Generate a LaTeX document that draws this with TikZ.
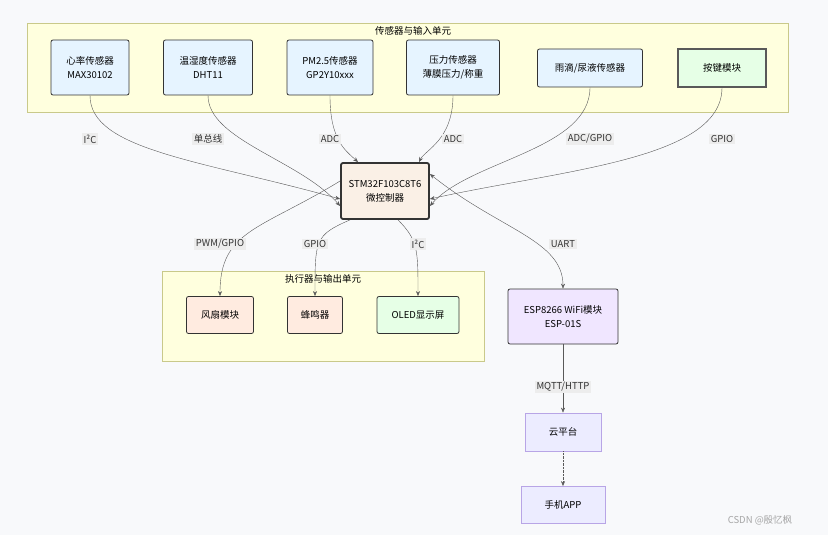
\documentclass[tikz,border=0pt]{standalone}
\usepackage{fontspec}
\setmainfont{Noto Sans CJK SC}
\usetikzlibrary{arrows.meta}
\definecolor{bgc}{HTML}{F8F9FB}
\definecolor{grpc}{HTML}{FFFFDE}
\definecolor{grpd}{HTML}{C9C98A}
\definecolor{sensc}{HTML}{E6F4FF}
\definecolor{keyc}{HTML}{E6FFE6}
\definecolor{mcuc}{HTML}{FAF0E6}
\definecolor{actc}{HTML}{FFEBE0}
\definecolor{espc}{HTML}{F0E6FF}
\definecolor{cldc}{HTML}{ECECFF}
\definecolor{cldd}{HTML}{B8A5E6}
\begin{document}
\begin{tikzpicture}[x=1pt,y=-1pt,font=\fontsize{9.5}{14}\selectfont,
  box/.style={draw=black!80,line width=0.8pt,rounded corners=2pt,align=center,inner sep=0pt},
  group/.style={draw=grpd,fill=grpc},
  lab/.style={fill=black!7,inner sep=1.5pt,text=black!80},
  arr/.style={draw=black!65,-{Stealth[length=5pt,width=4pt]}}]

\useasboundingbox[fill=bgc] (0,0) rectangle (828,535);

% groups
\draw[group] (27,23) rectangle (788,112);
\node (tin) at (413,31) {传感器与输入单元};
\draw[group] (162,271) rectangle (484,361);
\node (tout) at (323,279) {执行器与输出单元};

% sensors
\node[box,fill=sensc,minimum width=78,minimum height=55] (heart) at (90,67.5) {心率传感器\\MAX30102};
\node[box,fill=sensc,minimum width=89,minimum height=55] (temp) at (208,67.5) {温湿度传感器\\DHT11};
\node[box,fill=sensc,minimum width=86,minimum height=55] (pm) at (330,67.5) {PM2.5传感器\\GP2Y10xxx};
\node[box,fill=sensc,minimum width=93,minimum height=55] (press) at (453,67.5) {压力传感器\\薄膜压力/称重};
\node[box,fill=sensc,minimum width=105,minimum height=38] (rain) at (590,68) {雨滴/尿液传感器};
\node[box,fill=keyc,draw=black!65,line width=1.2pt,rounded corners=0pt,minimum width=88,minimum height=38] (key) at (722,68) {按键模块};

% controller
\node[box,fill=mcuc,line width=1.8pt,minimum width=88,minimum height=56] (stm) at (385,191) {STM32F103C8T6\\微控制器};

% outputs
\node[box,fill=actc,minimum width=67,minimum height=37] (fan) at (220,315) {风扇模块};
\node[box,fill=actc,minimum width=55,minimum height=37] (buzz) at (315,315) {蜂鸣器};
\node[box,fill=keyc,minimum width=82,minimum height=37] (oled) at (418,315) {OLED显示屏};
\node[box,fill=espc,minimum width=110,minimum height=55] (esp) at (563,316.5) {ESP8266 WiFi模块\\ESP-01S};
\node[box,fill=cldc,draw=cldd,rounded corners=0pt,line width=0.8pt,minimum width=76,minimum height=38] (cloud) at (563,432) {云平台};
\node[box,fill=cldc,draw=cldd,rounded corners=0pt,line width=0.8pt,minimum width=84,minimum height=37] (app) at (563,505) {手机APP};

% connectors
\draw[arr] (heart.south) .. controls (90,150) and (200,160) .. ([yshift=-8]stm.west);
\draw[arr] (temp.south) .. controls (208,140) and (300,160) .. ([yshift=-15]stm.west);
\draw[arr] (pm.south) .. controls (330,140) and (345,150) .. ([xshift=-27]stm.north);
\draw[arr] (press.south) .. controls (453,140) and (425,150) .. ([xshift=34]stm.north);
\draw[arr] (rain.south) .. controls (590,150) and (470,160) .. ([yshift=-15]stm.east);
\draw[arr] (key.south) .. controls (722,160) and (560,170) .. ([yshift=-8]stm.east);
\draw[arr] ([yshift=10]stm.west) .. controls (260,230) and (220,230) .. (fan.north);
\draw[arr] ([xshift=-35]stm.south) .. controls (315,235) and (315,240) .. (buzz.north);
\draw[arr] ([xshift=13]stm.south) .. controls (418,240) and (418,250) .. (oled.north);
\draw[arr,{Stealth[length=5pt,width=4pt]}-{Stealth[length=5pt,width=4pt]}] ([yshift=17]stm.east) .. controls (500,230) and (563,240) .. (esp.north);
\draw[arr] (esp.south) -- (cloud.north);
\draw[arr,densely dotted] (cloud.south) -- (app.north);

% labels
\node[lab] (l1) at (90,139) {I²C};
\node[lab] (l2) at (208,139) {单总线};
\node[lab] (l3) at (330,139) {ADC};
\node[lab] (l4) at (453,139) {ADC};
\node[lab] (l5) at (590,139) {ADC/GPIO};
\node[lab] (l6) at (722,139) {GPIO};
\node[lab] (l7) at (220,244) {PWM/GPIO};
\node[lab] (l8) at (315,244) {GPIO};
\node[lab] (l9) at (418,244) {I²C};
\node[lab] (l10) at (563,244) {UART};
\node[lab] (l11) at (563,387) {MQTT/HTTP};

\node[text=black!35] (mark) at (760,520) {CSDN @殷忆枫};
\end{tikzpicture}
\end{document}
